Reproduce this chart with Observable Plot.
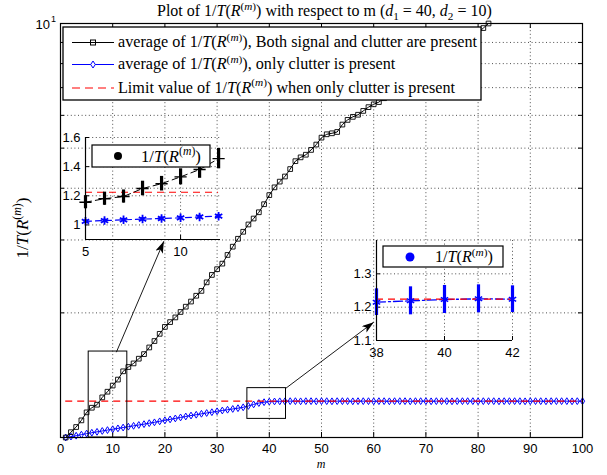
<!DOCTYPE html>
<html>
<head>
<meta charset="utf-8">
<script src="https://cdn.jsdelivr.net/npm/d3@7"></script>
<script src="https://cdn.jsdelivr.net/npm/@observablehq/plot@0.6"></script>
<style>
html,body{margin:0;padding:0;background:#fff;}
#wrap{position:relative;width:607px;height:475px;background:#fff;overflow:hidden;}
#wrap > svg{position:absolute;overflow:visible;background:transparent;}
text{white-space:pre;}
</style>
</head>
<body>
<div id="wrap"></div>
<script>
// ---------------- data ----------------
// average of 1/T(R^(m)), both signal and clutter present, m = 1..82 (above 10 it leaves the axes)
const bothSignalClutter = [
  1.00,1.03,1.06,1.10,1.15,1.18,1.20,1.25,1.29,1.335,
  1.38,1.445,1.48,1.51,1.55,1.59,1.65,1.71,1.78,1.85,
  1.90,1.95,2.01,2.07,2.13,2.20,2.26,2.37,2.47,2.55,
  2.63,2.76,2.89,3.02,3.14,3.27,3.38,3.50,3.66,3.85,
  4.02,4.15,4.27,4.45,4.65,4.75,4.82,4.95,5.10,5.30,
  5.40,5.43,5.47,5.70,5.85,5.95,6.02,6.15,6.28,6.38,
  6.46,6.60,6.75,6.90,7.05,7.20,7.35,7.50,7.65,7.80,
  7.95,8.10,8.25,8.40,8.55,8.70,8.90,9.10,9.30,9.50,
  9.75,10.0
];
// average of 1/T(R^(m)), only clutter present, m = 1..100
const clutterOnly = [
  1.000,1.005,1.010,1.016,1.022,1.027,1.032,1.037,1.042,1.047,
  1.052,1.057,1.062,1.067,1.072,1.077,1.083,1.088,1.094,1.100,
  1.106,1.112,1.118,1.124,1.130,1.135,1.141,1.146,1.151,1.157,
  1.162,1.167,1.172,1.177,1.183,1.192,1.202,1.211,1.217,1.221,
  1.222,1.223,1.223,1.224,1.224,1.223,1.224,1.224,1.223,1.224,
  1.224,1.223,1.224,1.224,1.224,1.223,1.224,1.224,1.224,1.223,
  1.224,1.224,1.223,1.224,1.224,1.224,1.223,1.224,1.224,1.224,
  1.223,1.224,1.224,1.224,1.223,1.224,1.224,1.224,1.224,1.223,
  1.224,1.224,1.224,1.223,1.224,1.224,1.224,1.224,1.223,1.224,
  1.224,1.224,1.223,1.224,1.224,1.224,1.224,1.223,1.224,1.224
];
const limitValue = 1.224;
const xTicks = [0,10,20,30,40,50,60,70,80,90,100];
const yGridTicks = [2,3,4,5,6,7,8,9,10];

// inset 1 (m = 5..12)
const inset1M = [5,6,7,8,9,10,11,12];
const inset1Both = [1.156,1.18,1.195,1.25,1.283,1.33,1.38,1.455];
const inset1BothErr = [0.045,0.045,0.045,0.05,0.05,0.055,0.06,0.07];
const inset1Clutter = [1.025,1.03,1.035,1.04,1.044,1.049,1.055,1.06];
const inset1ClutterErr = [0.01,0.01,0.01,0.01,0.01,0.01,0.012,0.012];
const inset1XTicks = [5,10];
const inset1YTicks = [1,1.2,1.4,1.6];

// inset 2 (m = 38..42)
const inset2M = [38,39,40,41,42];
const inset2Clutter = [1.215,1.219,1.223,1.225,1.224];
const inset2ClutterErr = [0.04,0.042,0.042,0.042,0.04];
const inset2XTicks = [38,40,42];
const inset2YTicks = [1.1,1.2,1.3];

// zoom boxes and arrows (data coordinates of the main axes)
const zoomBoxM1 = [5.4, 35.8], zoomBoxM2 = [12.8, 43.2];
const zoomBoxV1 = [1.0, 1.109], zoomBoxV2 = [1.613, 1.316];
const arrowFromM = [10.7, 43.2], arrowFromV = [1.607, 1.316];
const arrowToM = [19.8, 60.0], arrowToV = [2.98, 1.899];

// ---------------- build ----------------
const BLUE = "#0000ff", RED = "#ff0000";
const SANS = "'Liberation Sans', Arial, Helvetica, sans-serif";
const SERIF = "'Liberation Serif', 'DejaVu Serif', serif";
const DOT = "1,2.6";

const bothRows = bothSignalClutter.map((v, i) => ({m: i + 1, v}));
const clutterRows = clutterOnly.map((v, i) => ({m: i + 1, v}));
const boxes = zoomBoxM1.map((d, i) => ({m1: d, m2: zoomBoxM2[i], v1: zoomBoxV1[i], v2: zoomBoxV2[i]}));
const arrows = arrowFromM.map((d, i) => ({x1: d, y1: arrowFromV[i], x2: arrowToM[i], y2: arrowToV[i]}));

const tallDiamond = {
  draw(ctx, size) {
    const s = Math.sqrt(size), h = s * 0.64, w = s * 0.40;
    ctx.moveTo(0, -h); ctx.lineTo(w, 0); ctx.lineTo(0, h); ctx.lineTo(-w, 0); ctx.closePath();
  }
};

const W = 607, H = 475, ML = 60, MR = 25, MT = 23, MB = 38;
const iW = W - ML - MR, iH = H - MT - MB;

const wrap = document.getElementById("wrap");

const main = Plot.plot({
  width: W, height: H, marginLeft: ML, marginRight: MR, marginTop: MT, marginBottom: MB,
  x: {domain: [0, 100]},
  y: {type: "log", domain: [1, 10], axis: null},
  style: {background: "transparent", fontFamily: SANS, fontSize: "13px", color: "black", overflow: "visible"},
  marks: [
    Plot.ruleX(xTicks.slice(1, -1), {x: d => d, stroke: "#222", strokeWidth: 0.8, strokeDasharray: DOT}),
    Plot.ruleY(yGridTicks.slice(0, -1), {y: d => d, stroke: "#222", strokeWidth: 0.8, strokeDasharray: DOT}),
    Plot.tickX(xTicks, {x: d => d, stroke: "black", insetBottom: iH - 5}),
    Plot.tickX(xTicks, {x: d => d, stroke: "black", insetTop: iH - 5}),
    Plot.tickY(yGridTicks, {y: d => d, stroke: "black", insetRight: iW - 4}),
    Plot.tickY(yGridTicks, {y: d => d, stroke: "black", insetLeft: iW - 4}),
    Plot.axisX({ticks: xTicks, tickSize: 0, tickPadding: 6, tickFormat: d => String(d), label: null, fontSize: 13}),
    Plot.line(clutterRows, {x: "m", y: "v", stroke: BLUE, strokeWidth: 1}),
    Plot.dot(clutterRows, {x: "m", y: "v", symbol: tallDiamond, r: 3, stroke: BLUE, fill: "none", strokeWidth: 1}),
    Plot.ruleY([limitValue], {y: d => d, x1: 1, x2: 100, stroke: RED, strokeWidth: 1.1, strokeDasharray: "7,5"}),
    Plot.line(bothRows, {x: "m", y: "v", stroke: "black", strokeWidth: 1, clip: true}),
    Plot.dot(bothRows, {x: "m", y: "v", symbol: "square2", r: 3, stroke: "black", fill: "none", strokeWidth: 0.9}),
    Plot.rect(boxes, {x1: "m1", x2: "m2", y1: "v1", y2: "v2", fill: "none", stroke: "black", strokeWidth: 1}),
    Plot.link(arrows, {x1: "x1", y1: "y1", x2: "x2", y2: "y2", stroke: "black", strokeWidth: 0.9}),
    Plot.frame({stroke: "black", strokeWidth: 1.2})
  ]
});
main.style.left = "0px"; main.style.top = "0px";
wrap.appendChild(main);

// filled arrow heads on the links
const defs = d3.select(main).append("defs");
defs.append("marker").attr("id", "ahead").attr("viewBox", "0 0 12 8").attr("refX", 12).attr("refY", 4)
  .attr("markerWidth", 12).attr("markerHeight", 8).attr("markerUnits", "userSpaceOnUse").attr("orient", "auto")
  .append("path").attr("d", "M0,0 L12,4 L0,8 L3,4 Z").attr("fill", "black");
d3.select(main).selectAll('g[aria-label="link"] path').attr("marker-end", "url(#ahead)");

function errRows(ms, vs, es) { return ms.map((m, i) => ({m, v: vs[i], lo: vs[i] - es[i], hi: vs[i] + es[i]})); }

function inset({left, top, width, height, mL, mR, mT, mB, xDom, yDom, xT, yT, xGrid, yGrid, marks}) {
  const w = width - mL - mR, h = height - mT - mB;
  const p = Plot.plot({
    width, height, marginLeft: mL, marginRight: mR, marginTop: mT, marginBottom: mB,
    x: {domain: xDom}, y: {domain: yDom},
    style: {background: "transparent", fontFamily: SANS, fontSize: "13px", color: "black", overflow: "visible"},
    marks: [
      Plot.ruleX(xGrid, {x: d => d, stroke: "#222", strokeWidth: 0.8, strokeDasharray: DOT}),
      Plot.ruleY(yGrid, {y: d => d, stroke: "#222", strokeWidth: 0.8, strokeDasharray: DOT}),
      Plot.axisX({ticks: xT, tickSize: 0, tickPadding: 7, tickFormat: d => String(d), label: null, fontSize: 13}),
      Plot.axisY({ticks: yT, tickSize: 0, tickPadding: 5, tickFormat: d => String(d), label: null, fontSize: 13}),
      Plot.tickX(xT, {x: d => d, stroke: "black", insetTop: h - 4}),
      Plot.tickY(yT, {y: d => d, stroke: "black", insetRight: w - 4}),
      ...marks,
      Plot.ruleX([xDom[0]], {x: d => d, stroke: "black", strokeWidth: 1.2}),
      Plot.ruleY([yDom[0]], {y: d => d, stroke: "black", strokeWidth: 1.2})
    ]
  });
  p.style.left = left + "px"; p.style.top = top + "px";
  wrap.appendChild(p);
  return p;
}

const i1Both = errRows(inset1M, inset1Both, inset1BothErr);
const i1Clut = errRows(inset1M, inset1Clutter, inset1ClutterErr);
inset({
  left: 55, top: 127, width: 175, height: 130, mL: 30, mR: 10, mT: 10, mB: 18,
  xDom: [5, 12.1], yDom: [0.9, 1.6], xT: inset1XTicks, yT: inset1YTicks,
  xGrid: [10], yGrid: inset1YTicks,
  marks: [
    Plot.ruleY([limitValue], {y: d => d, x1: 5, x2: 12, stroke: RED, strokeWidth: 1.1, strokeDasharray: "7,5"}),
    Plot.line(i1Both, {x: "m", y: "v", stroke: "black", strokeWidth: 1, strokeDasharray: "6,4"}),
    Plot.ruleX(i1Both, {x: "m", y1: "lo", y2: "hi", stroke: "black", strokeWidth: 3.2}),
    Plot.dot(i1Both, {x: "m", y: "v", symbol: "plus", r: 4, stroke: "black", strokeWidth: 1.4}),
    Plot.line(i1Clut, {x: "m", y: "v", stroke: BLUE, strokeWidth: 1.2, strokeDasharray: "6,4"}),
    Plot.ruleX(i1Clut, {x: "m", y1: "lo", y2: "hi", stroke: BLUE, strokeWidth: 3}),
    Plot.dot(i1Clut, {x: "m", y: "v", symbol: "asterisk", r: 4, stroke: BLUE, strokeWidth: 1.8})
  ]
});

const i2Clut = errRows(inset2M, inset2Clutter, inset2ClutterErr);
inset({
  left: 346, top: 230, width: 176, height: 130, mL: 30, mR: 10, mT: 10, mB: 20,
  xDom: [38, 42], yDom: [1.1, 1.4], xT: inset2XTicks, yT: inset2YTicks,
  xGrid: [40, 42], yGrid: [1.2, 1.3],
  marks: [
    Plot.line(i2Clut, {x: "m", y: "v", stroke: BLUE, strokeWidth: 1.3, strokeDasharray: "9,3,2,3"}),
    Plot.ruleY([limitValue], {y: d => d, x1: 38, x2: 42, stroke: RED, strokeWidth: 1.1, strokeDasharray: "7,5"}),
    Plot.ruleX(i2Clut, {x: "m", y1: "lo", y2: "hi", stroke: BLUE, strokeWidth: 3.2}),
    Plot.dot(i2Clut, {x: "m", y: "v", symbol: "asterisk", r: 4, stroke: BLUE, strokeWidth: 1.5})
  ]
});

// ---------------- overlay: titles, labels, legends ----------------
const ov = d3.select(wrap).append("svg").attr("width", W).attr("height", H)
  .style("left", "0px").style("top", "0px");

function rich(parent, x, y, segs, {size = 13, family = SERIF, anchor = "start", transform = null} = {}) {
  const t = parent.append("text").attr("x", x).attr("y", y).attr("font-family", family)
    .attr("font-size", size).attr("text-anchor", anchor).attr("fill", "black");
  if (transform) t.attr("transform", transform);
  let cur = 0;
  for (const [str, fl = ""] of segs) {
    const lvl = fl.includes("^") ? 1 : fl.includes("_") ? -1 : 0;
    const target = lvl === 1 ? -0.4 : lvl === -1 ? 0.22 : 0;
    const scale = lvl ? 0.7 : 1;
    const ts = t.append("tspan").text(str);
    if (lvl) ts.attr("font-size", "70%");
    if (fl.includes("i")) ts.attr("font-style", "italic");
    if (target !== cur) ts.attr("dy", ((target - cur) / scale).toFixed(3) + "em");
    cur = target;
  }
  return t;
}
function fit(t, targetW) {
  const w = t.node().getComputedTextLength();
  const fs = parseFloat(t.attr("font-size"));
  if (w > 0) t.attr("font-size", (fs * targetW / w).toFixed(2));
  return parseFloat(t.attr("font-size"));
}
const invT = [["1/"], ["T", "i"], ["("], ["R", "i"], ["(", "^"], ["m", "^i"], [")", "^"], [")"]];

// title
const title = rich(ov, 157, 16, [["Plot of "], ...invT, [" with respect to m ("], ["d", "i"], ["1", "_"], [" = 40, "], ["d", "i"], ["2", "_"], [" = 10)"]], {size: 13});
fit(title, 335);

// y label
const yl = rich(ov, 0, 0, invT, {size: 13, anchor: "middle", transform: "translate(28,228) rotate(-90)"});
fit(yl, 61);

// x label
rich(ov, ML + iW / 2, 468, [["m", "i"]], {size: 12, anchor: "middle"});

// 10^1 label on the log axis
const y10 = main.scale("y").apply(10);
ov.append("text").attr("x", 50).attr("y", y10 + 5.5).attr("text-anchor", "end")
  .attr("font-family", SANS).attr("font-size", 13).text("10");
ov.append("text").attr("x", 51).attr("y", y10 - 1.5)
  .attr("font-family", SANS).attr("font-size", 9).text("1");

// main legend
const lg = ov.append("g");
lg.append("rect").attr("x", 63).attr("y", 27).attr("width", 418).attr("height", 73)
  .attr("fill", "white").attr("stroke", "black").attr("stroke-width", 1.3);
const rowY = [42.5, 64.5, 88];
lg.append("line").attr("x1", 72).attr("x2", 114).attr("y1", rowY[0]).attr("y2", rowY[0]).attr("stroke", "black");
lg.append("rect").attr("x", 90.5).attr("y", rowY[0] - 2.5).attr("width", 5).attr("height", 5).attr("fill", "none").attr("stroke", "black");
lg.append("line").attr("x1", 72).attr("x2", 114).attr("y1", rowY[1]).attr("y2", rowY[1]).attr("stroke", BLUE);
lg.append("path").attr("d", `M93,${rowY[1] - 3.5}L95.3,${rowY[1]}L93,${rowY[1] + 3.5}L90.7,${rowY[1]}Z`).attr("fill", "white").attr("stroke", BLUE);
lg.append("line").attr("x1", 72).attr("x2", 114).attr("y1", rowY[2]).attr("y2", rowY[2]).attr("stroke", RED).attr("stroke-width", 1.1).attr("stroke-dasharray", "8,5");
const r1 = rich(lg, 118, 47, [["average of "], ...invT, [", Both signal and clutter are present"]], {size: 13});
const lfs = fit(r1, 359);
rich(lg, 118, 69, [["average of "], ...invT, [", only clutter is present"]], {size: lfs});
rich(lg, 118, 92.5, [["Limit value of "], ...invT, [" when only clutter is present"]], {size: lfs});

// inset legends
const il1 = ov.append("g");
il1.append("rect").attr("x", 92).attr("y", 145).attr("width", 118).attr("height", 22).attr("fill", "white").attr("stroke", "black").attr("stroke-width", 1.2);
il1.append("circle").attr("cx", 118).attr("cy", 156).attr("r", 4).attr("fill", "black");
fit(rich(il1, 141, 161.5, invT, {size: 13}), 60);

const il2 = ov.append("g");
il2.append("rect").attr("x", 383).attr("y", 246).attr("width", 120).attr("height", 21).attr("fill", "white").attr("stroke", "black").attr("stroke-width", 1.2);
il2.append("circle").attr("cx", 410).attr("cy", 257).attr("r", 4.5).attr("fill", BLUE);
fit(rich(il2, 435, 262, invT, {size: 13}), 58);
</script>
</body>
</html>
